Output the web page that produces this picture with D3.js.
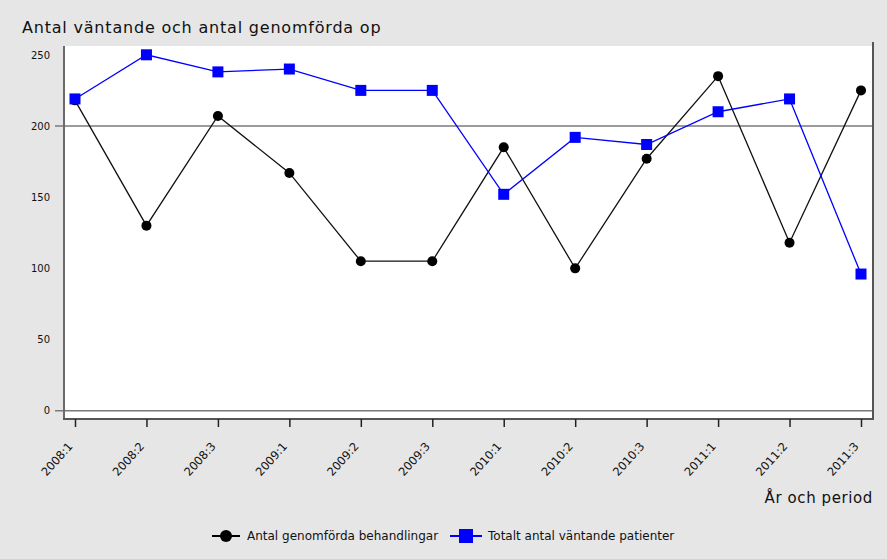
<!DOCTYPE html>
<html>
<head>
<meta charset="utf-8">
<script src="https://cdn.jsdelivr.net/npm/d3@7/dist/d3.min.js"></script>
<style>
  html, body { margin: 0; padding: 0; background: #e6e6e6; }
  svg { display: block; }
  text { font-family: "DejaVu Sans", sans-serif; fill: #111; }
</style>
</head>
<body>
<svg id="chart" width="887" height="559"></svg>
<script>
// Period labels (year:tertial)
const periods = ["2008:1", "2008:2", "2008:3", "2009:1", "2009:2", "2009:3",
                 "2010:1", "2010:2", "2010:3", "2011:1", "2011:2", "2011:3"];
// Number of performed operations per period
const performed = [218, 130, 207, 167, 105, 105, 185, 100, 177, 235, 118, 225];
// Total number waiting per period
const waiting = [219, 250, 238, 240, 225, 225, 152, 192, 187, 210, 219, 96];
// Y-axis ticks and horizontal guide lines
const yTicks = [0, 50, 100, 150, 200, 250];
const guideLines = [0, 200];

const seriesNames = ["Antal genomförda behandlingar", "Totalt antal väntande patienter"];
const titleText = "Antal väntande och antal genomförda op";
const xTitle = "År och period";

const svg = d3.select("#chart");
const W = 887, H = 559;

const plot = { left: 64, right: 873, top: 46, bottom: 419 };

svg.append("rect").attr("width", W).attr("height", H).attr("fill", "#e6e6e6");

// White plotting area
svg.append("rect")
  .attr("x", plot.left).attr("y", plot.top)
  .attr("width", plot.right - plot.left).attr("height", plot.bottom - plot.top)
  .attr("fill", "#fff");

const x = d3.scalePoint().domain(periods).range([75, 861]);
const y = d3.scaleLinear().domain([0, 250]).range([410.7, 54.8]);

// Guide lines at 0 and 200
svg.selectAll("line.guide").data(guideLines).join("line")
  .attr("class", "guide")
  .attr("x1", 55).attr("x2", plot.right)
  .attr("y1", d => y(d)).attr("y2", d => y(d))
  .attr("stroke", "#7a7a7a").attr("stroke-width", 1.6);

// Frame: left axis, right edge, bottom edge
svg.append("line").attr("x1", plot.left).attr("x2", plot.left)
  .attr("y1", plot.top).attr("y2", plot.bottom)
  .attr("stroke", "#6a6a6a").attr("stroke-width", 2);
svg.append("line").attr("x1", plot.right).attr("x2", plot.right)
  .attr("y1", plot.top - 4).attr("y2", plot.bottom + 1)
  .attr("stroke", "#555").attr("stroke-width", 2);
svg.append("line").attr("x1", plot.left - 1).attr("x2", plot.right + 1)
  .attr("y1", plot.bottom).attr("y2", plot.bottom)
  .attr("stroke", "#555").attr("stroke-width", 2);

// Y axis labels
const yAxis = d3.axisLeft(y).tickValues(yTicks).tickSize(0).tickPadding(0);
const gy = svg.append("g").attr("transform", `translate(50,0)`).call(yAxis);
gy.select(".domain").remove();
gy.selectAll("text").style("font-size", "10px").style("font-family", "'DejaVu Sans', sans-serif");

// X axis ticks and rotated labels
const xAxis = d3.axisBottom(x).tickSize(8).tickPadding(0);
const gx = svg.append("g").attr("transform", `translate(0,${plot.bottom})`).call(xAxis);
gx.select(".domain").remove();
gx.selectAll(".tick line").attr("stroke", "#222").attr("stroke-width", 1.5);
gx.selectAll("text")
  .style("font-size", "11.5px")
  .style("font-family", "'DejaVu Sans', sans-serif")
  .attr("text-anchor", "end")
  .attr("transform", "translate(-5,25) rotate(-48)")
  .attr("y", 0).attr("dy", "0.35em");

// Lines
const line = d3.line().x((d, i) => x(periods[i])).y(d => y(d));

svg.append("path").datum(performed)
  .attr("d", line).attr("fill", "none")
  .attr("stroke", "#111").attr("stroke-width", 1.3);
svg.append("path").datum(waiting)
  .attr("d", line).attr("fill", "none")
  .attr("stroke", "#0000ff").attr("stroke-width", 1.3);

// Markers
svg.selectAll("circle.perf").data(performed).join("circle")
  .attr("class", "perf")
  .attr("cx", (d, i) => x(periods[i])).attr("cy", d => y(d))
  .attr("r", 5).attr("fill", "#000");

const sq = 11;
svg.selectAll("rect.wait").data(waiting).join("rect")
  .attr("class", "wait")
  .attr("x", (d, i) => x(periods[i]) - sq / 2).attr("y", d => y(d) - sq / 2)
  .attr("width", sq).attr("height", sq).attr("fill", "#0000ff");

// Titles
svg.append("text").attr("x", 22).attr("y", 33)
  .style("font-size", "16px").style("letter-spacing", "0.8px").text(titleText);

svg.append("text").attr("x", plot.right).attr("y", 503)
  .attr("text-anchor", "end")
  .style("font-size", "15px").style("letter-spacing", "0.6px").text(xTitle);

// Legend
const lg = svg.append("g");
lg.append("line").attr("x1", 212).attr("x2", 240).attr("y1", 536).attr("y2", 536)
  .attr("stroke", "#000").attr("stroke-width", 2);
lg.append("circle").attr("cx", 226).attr("cy", 536).attr("r", 6).attr("fill", "#000");
lg.append("text").attr("x", 247).attr("y", 540).style("font-size", "12px").text(seriesNames[0]);

lg.append("line").attr("x1", 450).attr("x2", 482).attr("y1", 536).attr("y2", 536)
  .attr("stroke", "#0000ff").attr("stroke-width", 2);
lg.append("rect").attr("x", 459).attr("y", 529).attr("width", 14).attr("height", 14).attr("fill", "#0000ff");
lg.append("text").attr("x", 488).attr("y", 540).style("font-size", "12px").text(seriesNames[1]);
</script>
</body>
</html>
